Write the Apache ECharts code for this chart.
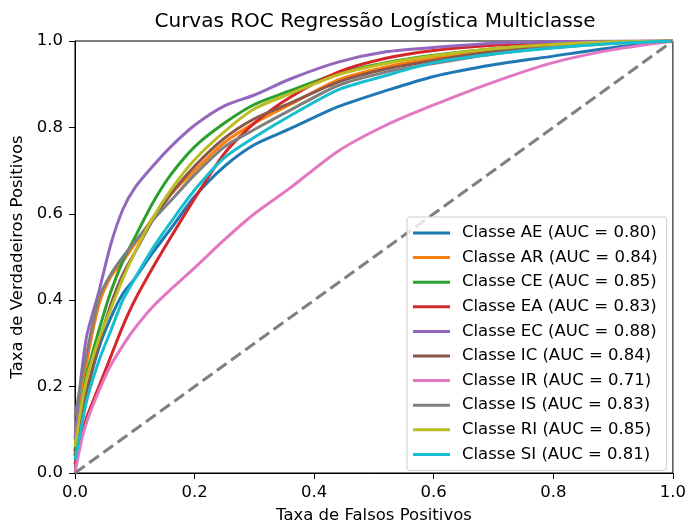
<!DOCTYPE html>
<html>
<head>
<meta charset="utf-8">
<script src="https://cdn.jsdelivr.net/npm/echarts@6/dist/echarts.min.js"></script>
<style>
  html, body { margin: 0; padding: 0; background: #fff; }
  #chart { width: 689px; height: 529px; }
</style>
</head>
<body>
<div id="chart"></div>
<script>
// FPR grid shared by all curves
const fpr = [0, 0.01, 0.02, 0.04, 0.06, 0.08, 0.1, 0.13, 0.16, 0.2, 0.25, 0.3, 0.36, 0.44, 0.52, 0.6, 0.7, 0.8, 0.9, 1.0]

// TPR per class
const tprAE = [0.04, 0.12, 0.19, 0.29, 0.36, 0.415, 0.45, 0.51, 0.565, 0.64, 0.71, 0.76, 0.797, 0.848, 0.885, 0.918, 0.945, 0.965, 0.985, 1]
const tprAR = [0.05, 0.17, 0.26, 0.39, 0.455, 0.49, 0.53, 0.59, 0.645, 0.70, 0.765, 0.81, 0.853, 0.91, 0.94, 0.96, 0.978, 0.99, 0.997, 1]
const tprCE = [0.05, 0.15, 0.23, 0.33, 0.42, 0.49, 0.545, 0.625, 0.69, 0.755, 0.81, 0.853, 0.885, 0.925, 0.95, 0.967, 0.982, 0.992, 0.998, 1]
const tprEA = [0.02, 0.08, 0.13, 0.20, 0.27, 0.34, 0.40, 0.475, 0.545, 0.635, 0.74, 0.81, 0.87, 0.928, 0.96, 0.978, 0.99, 0.996, 0.999, 1]
const tprEC = [0.08, 0.22, 0.32, 0.42, 0.53, 0.61, 0.66, 0.71, 0.755, 0.805, 0.85, 0.875, 0.912, 0.951, 0.975, 0.985, 0.995, 0.998, 1.0, 1]
const tprIC = [0.04, 0.12, 0.19, 0.30, 0.39, 0.46, 0.51, 0.585, 0.645, 0.71, 0.775, 0.82, 0.856, 0.905, 0.935, 0.955, 0.975, 0.988, 0.996, 1]
const tprIR = [0.0, 0.07, 0.12, 0.19, 0.25, 0.295, 0.335, 0.385, 0.425, 0.475, 0.54, 0.60, 0.66, 0.745, 0.805, 0.852, 0.905, 0.95, 0.98, 1]
const tprIS = [0.13, 0.21, 0.28, 0.405, 0.46, 0.50, 0.535, 0.585, 0.63, 0.69, 0.755, 0.795, 0.84, 0.897, 0.928, 0.948, 0.97, 0.985, 0.995, 1]
const tprRI = [0.06, 0.15, 0.22, 0.31, 0.38, 0.45, 0.51, 0.59, 0.655, 0.725, 0.79, 0.843, 0.878, 0.922, 0.948, 0.966, 0.982, 0.992, 0.998, 1]
const tprSI = [0.03, 0.10, 0.17, 0.26, 0.33, 0.40, 0.45, 0.52, 0.58, 0.655, 0.73, 0.777, 0.827, 0.887, 0.92, 0.95, 0.97, 0.984, 0.994, 1]

const classes = ['AE', 'AR', 'CE', 'EA', 'EC', 'IC', 'IR', 'IS', 'RI', 'SI']
const aucs = ['0.80', '0.84', '0.85', '0.83', '0.88', '0.84', '0.71', '0.83', '0.85', '0.81']
const tprs = [tprAE, tprAR, tprCE, tprEA, tprEC, tprIC, tprIR, tprIS, tprRI, tprSI]
const colors = ['#1f77b4', '#ff7f0e', '#2ca02c', '#d62728', '#9467bd', '#8c564b', '#e377c2', '#7f7f7f', '#bcbd22', '#17becf']

// chance line
const diagX = [0, 1]
const diagY = [0, 1]

const FONT = 'DejaVu Sans'
const chart = echarts.init(document.getElementById('chart'))

const names = classes.map((c, i) => `Classe ${c} (AUC = ${aucs[i]})`)

const series = classes.map((c, i) => ({
  name: names[i],
  type: 'line',
  data: fpr.map((x, j) => [x, tprs[i][j]]),
  smooth: 0.25,
  symbol: 'none',
  lineStyle: { color: colors[i], width: 3 },
  itemStyle: { color: colors[i] },
  z: 2,
}))

series.push({
  name: 'diag',
  type: 'line',
  data: diagX.map((x, j) => [x, diagY[j]]),
  symbol: 'none',
  lineStyle: { color: '#808080', width: 3, type: [12, 5.5] },
  z: 3,
})

const axisCommon = {
  type: 'value',
  min: 0, max: 1, interval: 0.2,
  axisLine: { show: true, lineStyle: { color: '#000', width: 1 } },
  axisTick: { show: true, length: 6, lineStyle: { color: '#000', width: 1 } },
  splitLine: { show: false },
  axisLabel: { color: '#000', fontFamily: FONT, fontSize: 16.5, margin: 12, formatter: v => v.toFixed(1) },
  nameLocation: 'middle',
  nameTextStyle: { color: '#000', fontFamily: FONT, fontSize: 16.5 },
}

chart.setOption({
  backgroundColor: '#fff',
  animation: false,
  title: {
    text: 'Curvas ROC Regressão Logística Multiclasse',
    left: 375, textAlign: 'center', top: 12, padding: 0,
    textStyle: { color: '#000', fontFamily: FONT, fontSize: 20, fontWeight: 'normal' },
  },
  grid: { left: 75, right: 15, top: 41, bottom: 51, show: true, borderColor: '#000', borderWidth: 1 },
  xAxis: { ...axisCommon, name: 'Taxa de Falsos Positivos', nameGap: 34, axisLabel: { ...axisCommon.axisLabel, margin: 11 } },
  yAxis: { ...axisCommon, name: 'Taxa de Verdadeiros Positivos', nameGap: 44 },
  legend: {
    data: names,
    orient: 'vertical',
    left: 407, top: 217,
    padding: [7, 9, 7, 6],
    backgroundColor: 'rgba(255,255,255,0.8)',
    borderColor: '#cccccc', borderWidth: 1, borderRadius: 3,
    icon: 'rect', itemWidth: 37, itemHeight: 3, itemGap: 6.6,
    textStyle: { color: '#000', fontFamily: FONT, fontSize: 16.5, lineHeight: 18, padding: [0, 0, 0, 7] },
  },
  series,
})
</script>
</body>
</html>
